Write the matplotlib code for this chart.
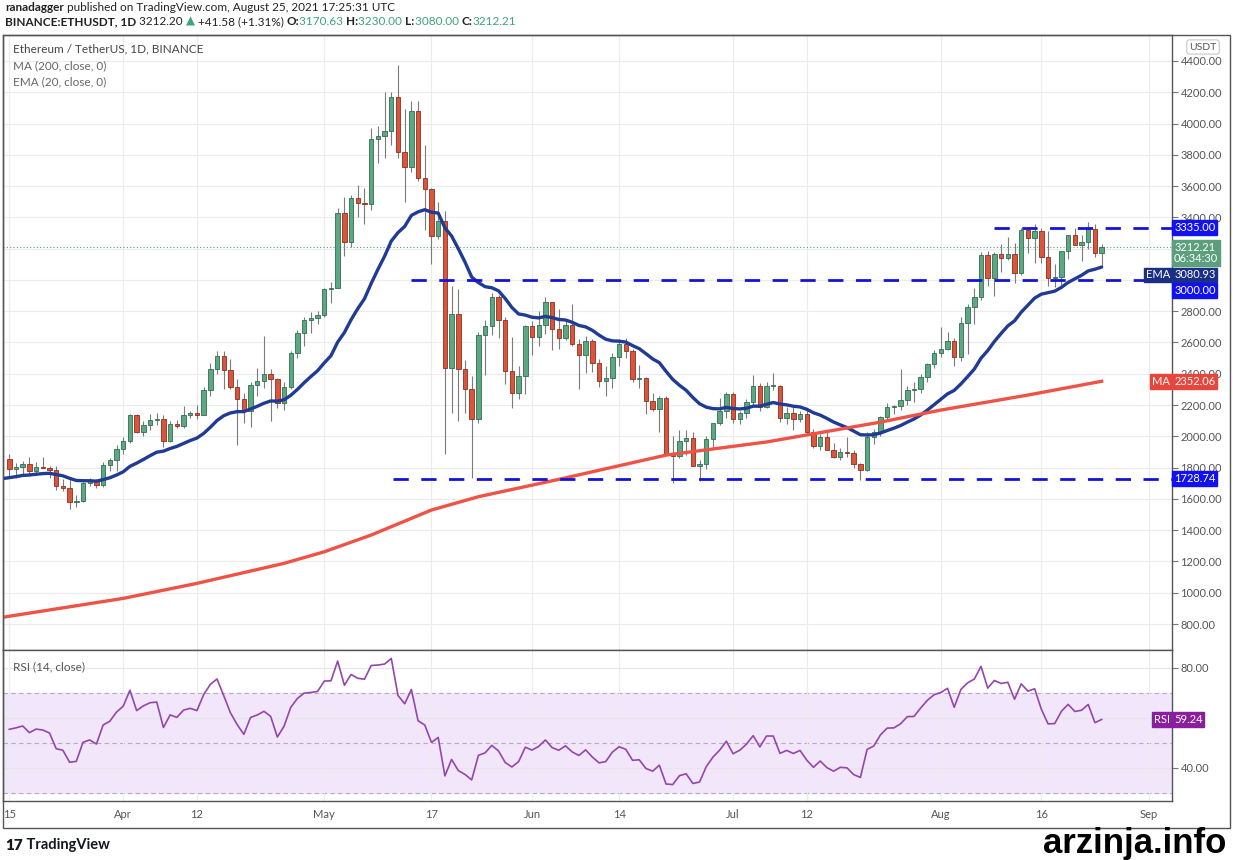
import numpy as np
import matplotlib
matplotlib.use("Agg")
import matplotlib.pyplot as plt
from matplotlib.text import Annotation
from matplotlib.patches import Rectangle

plt.rcParams['font.family'] = ['Lato', 'DejaVu Sans']

# daily candles, Mar 15 .. Aug 25 2021 (day 0 = Mar 15)
opens = [1855, 1792, 1806, 1823, 1777, 1806, 1800, 1782, 1680, 1669, 1582, 1587, 1700, 1715, 1690, 1817, 1846,
         1919, 1970, 2137, 2025, 2073, 2106, 2113, 1968, 2081, 2066, 2134, 2151, 2139, 2299, 2432, 2514, 2423, 2317,
         2236, 2163, 2330, 2357, 2397, 2364, 2214, 2316, 2534, 2663, 2747, 2757,
         2773, 2945, 2950, 3431, 3241, 3524, 3491, 3483, 3903, 3920, 3955, 4169, 3815, 3720, 4081, 3650, 3582, 3279,
         3376, 2440, 2780, 2432, 2300, 2110, 2645, 2706, 2888, 2742, 2415, 2278, 2389,
         2707, 2634, 2715, 2856, 2689, 2630, 2715, 2590, 2517, 2611, 2472, 2354, 2372, 2510, 2590, 2548, 2367, 2373,
         2225, 2177, 2243, 1888, 1876, 1970, 1990, 1812, 1826, 1980, 2086, 2165,
         2273, 2110, 2150, 2220, 2322, 2190, 2322, 2322, 2117, 2149, 2112, 2142, 2030, 1940, 1995, 1915, 1870, 1900,
         1894, 1820, 1787, 1995, 2025, 2125, 2190, 2192, 2230, 2298, 2300, 2382, 2465,
         2530, 2556, 2607, 2507, 2725, 2827, 2891, 3157, 3012, 3163, 3142, 3164, 3047, 3322, 3266, 3310, 3148, 3013,
         3017, 3182, 3286, 3226, 3243, 3323, 3170.63]
highs = [1887, 1830, 1845, 1870, 1837, 1868, 1812, 1812, 1725, 1727, 1625, 1707, 1732, 1725, 1837, 1860, 1945,
         1995, 2144, 2145, 2100, 2145, 2152, 2136, 2095, 2105, 2196, 2165, 2200, 2318, 2470, 2545, 2548, 2495, 2365,
         2280, 2345, 2440, 2644, 2430, 2373, 2350, 2546, 2680, 2760, 2798, 2800,
         2950, 2985, 3457, 3530, 3541, 3610, 3590, 3970, 3986, 4200, 4200, 4372, 4090, 4147, 4146, 3860, 3585, 3500,
         3438, 2960, 2945, 2488, 2385, 2665, 2745, 2915, 2904, 2762, 2635, 2450, 2715,
         2740, 2800, 2891, 2858, 2817, 2743, 2846, 2620, 2640, 2620, 2495, 2450, 2530, 2620, 2630, 2560, 2456, 2380,
         2275, 2260, 2255, 2000, 2040, 2040, 2025, 1850, 2000, 2080, 2245, 2285,
         2285, 2165, 2240, 2390, 2340, 2345, 2405, 2330, 2190, 2185, 2165, 2180, 2045, 2015, 2040, 1960, 1925, 1995,
         1910, 1830, 2025, 2045, 2130, 2215, 2200, 2430, 2320, 2345, 2400, 2470, 2550,
         2700, 2665, 2630, 2765, 2845, 2950, 3180, 3185, 3180, 3230, 3275, 3235, 3335, 3330, 3360, 3335, 3310, 3100,
         3185, 3290, 3335, 3290, 3370, 3360, 3230]
lows = [1740, 1733, 1762, 1760, 1750, 1795, 1732, 1657, 1652, 1535, 1546, 1583, 1680, 1670, 1677, 1780, 1777,
        1885, 1955, 2020, 2003, 2040, 2071, 1932, 1966, 2055, 2055, 2120, 2110, 2137, 2257, 2400, 2300, 2305, 1945,
        2085, 2060, 2260, 2307, 2100, 2180, 2170, 2305, 2500, 2580, 2660, 2720,
        2760, 2855, 2950, 3150, 3212, 3400, 3360, 3450, 3745, 3780, 3862, 3780, 3497, 3690, 3630, 3320, 3100, 3260,
        1887, 2150, 2100, 2150, 1733, 2085, 2390, 2650, 2629, 2336, 2180, 2240, 2270,
        2520, 2580, 2655, 2552, 2557, 2615, 2580, 2302, 2405, 2413, 2316, 2260, 2310, 2450, 2500, 2345, 2310, 2140,
        2160, 2028, 1880, 1700, 1860, 1880, 1810, 1714, 1790, 1920, 2075, 2120,
        2085, 2080, 2120, 2200, 2160, 2180, 2295, 2090, 2080, 2040, 2090, 2020, 1925, 1910, 1920, 1860, 1850, 1870,
        1800, 1718, 1780, 1950, 2000, 2100, 2140, 2170, 2200, 2220, 2280, 2345, 2440,
        2505, 2550, 2450, 2480, 2525, 2720, 2871, 2960, 2900, 3050, 3125, 2981, 3030, 3170, 3108, 3110, 2961, 2955,
        2970, 3135, 3230, 3121, 3200, 3146, 3080]
closes = [1792, 1806, 1823, 1777, 1806, 1800, 1782, 1680, 1669, 1582, 1587, 1700, 1715, 1690, 1817, 1846, 1919,
          1970, 2137, 2025, 2073, 2106, 2113, 1968, 2081, 2066, 2134, 2151, 2139, 2299, 2432, 2514, 2423, 2317, 2236,
          2163, 2330, 2357, 2397, 2364, 2214, 2316, 2534, 2663, 2747, 2757, 2773,
          2945, 2950, 3431, 3241, 3524, 3491, 3483, 3903, 3920, 3955, 4169, 3815, 3720, 4081, 3650, 3582, 3279, 3376,
          2440, 2780, 2432, 2300, 2110, 2645, 2706, 2888, 2742, 2415, 2278, 2389, 2707,
          2634, 2715, 2856, 2689, 2630, 2715, 2590, 2517, 2611, 2472, 2354, 2372, 2510, 2590, 2548, 2367, 2373, 2225,
          2177, 2243, 1888, 1876, 1970, 1990, 1812, 1826, 1980, 2086, 2165, 2273,
          2110, 2150, 2220, 2322, 2190, 2322, 2322, 2117, 2149, 2112, 2142, 2030, 1940, 1995, 1915, 1870, 1900, 1894,
          1820, 1787, 1995, 2025, 2125, 2190, 2192, 2230, 2298, 2300, 2382, 2465, 2530,
          2556, 2607, 2507, 2725, 2827, 2891, 3157, 3012, 3163, 3142, 3164, 3047, 3322, 3266, 3310, 3148, 3013, 3017,
          3182, 3286, 3226, 3243, 3323, 3173, 3212.21]

# MA(200) at a few days
ma_days = [-1, 17, 28, 41, 47, 54, 63, 70, 82, 98, 113, 130, 139, 152, 163]
ma_vals = [843, 964, 1060, 1188, 1262, 1369, 1529, 1614, 1725, 1880, 1964, 2091, 2168, 2264, 2352]

ema_start = 1730          # EMA value at the left edge
rsi_gain0, rsi_loss0 = 48, 34   # Wilder averages before day 0

# horizontal levels drawn by the author: (price, first day)
levels = [(3335.00, 146.9), (3000.00, 60.0), (1728.74, 57.2)]

date_ticks = [0, 17, 28, 47, 63, 78, 91, 108, 119, 139, 154, 170]
date_labels = ["15", "Apr", "12", "May", "17", "Jun", "14", "Jul", "12", "Aug", "16", "Sep"]

last_price = 3212.21
ema_label = "3080.93"
ma_label = "2352.06"
rsi_label = "59.24"

# ---- indicators
days = np.arange(len(closes))
c = np.array(closes, dtype=float)
o = np.array(opens, dtype=float)
h = np.array(highs, dtype=float)
l = np.array(lows, dtype=float)

ema = []
e = ema_start
for v in c:
    e = e + (v - e) * 2 / 21
    ema.append(e)

rsi = []
g_avg, l_avg = rsi_gain0, rsi_loss0
prev = o[0]
for v in c:
    d = v - prev
    g_avg = (g_avg * 13 + max(d, 0)) / 14
    l_avg = (l_avg * 13 + max(-d, 0)) / 14
    rsi.append(100 - 100 / (1 + g_avg / l_avg))
    prev = v

# ---- figure
W, H = 1233, 860
fig = plt.figure(figsize=(W / 100, H / 100), dpi=100)
ax = fig.add_axes([3 / W, (H - 650) / H, 1169 / W, 615 / H])
ax2 = fig.add_axes([3 / W, (H - 801) / H, 1169 / W, 151 / H], sharex=ax)

x0, x1 = -0.94, 173.5
ax.set_xlim(x0, x1)
ax.set_ylim(634, 4566)

GREEN, RED = '#5ea783', '#d9553b'
up = c >= o
cols = np.where(up, GREEN, RED)
edges = np.where(up, '#2f6e51', '#8e2f1f')
ax.vlines(days, l, h, color='#7b7b7b', lw=0.8, zorder=3)
body_lo = np.minimum(o, c)
body_h = np.maximum(np.abs(c - o), 5)
ax.bar(days, body_h, bottom=body_lo, width=0.66, color=cols, edgecolor=edges, lw=0.6, zorder=4)

ax.plot([-1] + list(days), [ema_start] + ema, color='#1f3b93', lw=2.4, zorder=5, solid_capstyle='round')
ax.plot(ma_days, ma_vals, color='#ef5347', lw=2.4, zorder=5)

for price, start in levels:
    ax.plot([start, x1], [price, price], color='#1414d8', lw=2.0, ls=(0, (5.5, 4.5)), zorder=6)

ax.axhline(last_price, color='#5c9f7d', lw=0.8, ls=(0, (1, 2)), zorder=2)

price_ticks = np.arange(800, 4401, 200)
ax.set_yticks(price_ticks)
# 3200 and 3000 sit fully under the price tags on the right
ax.set_yticklabels(["" if p in (3000, 3200) else "%.2f" % p for p in price_ticks])
ax.yaxis.tick_right()
ax.tick_params(axis='y', length=4, width=0.8, color='#777', labelsize=8, labelcolor='#555', pad=2)
ax.set_xticks(date_ticks)
ax.tick_params(axis='x', length=0, labelbottom=False)
ax.grid(True, color='#ececec', lw=0.8, zorder=0)
for s in ax.spines.values():
    s.set_color('#555')
    s.set_linewidth(1)

ax.text(10 / 1169, 1 - 14 / 615, "Ethereum / TetherUS, 1D, BINANCE", transform=ax.transAxes,
        fontsize=8.5, color='#444', va='center')
ax.text(10 / 1169, 1 - 31 / 615, "MA (200, close, 0)", transform=ax.transAxes,
        fontsize=8.5, color='#666', va='center')
ax.text(10 / 1169, 1 - 47 / 615, "EMA (20, close, 0)", transform=ax.transAxes,
        fontsize=8.5, color='#666', va='center')


def tag(axis, text, y, fc, side='right', fs=8):
    if side == 'right':
        xt, ha = 1.5, 'left'
    else:
        xt, ha = -1.5, 'right'
    axis.annotate(text, xy=(1, y), xycoords=('axes fraction', 'data'), xytext=(xt, 0),
                  textcoords='offset points', ha=ha, va='center', fontsize=fs, color='white',
                  linespacing=1.0,
                  bbox=dict(boxstyle='square,pad=0.16', fc=fc, ec=fc), annotation_clip=False, zorder=10)


BLUE = '#1212f0'
NAVY = '#1b2f86'
# tags are pushed apart the way the chart stacks them
tag(ax, "3335.00", 3335.00, BLUE)
tag(ax, "3212.21\n06:34:30", 3172, '#5c9f7d')
tag(ax, ema_label, 3032, NAVY)
tag(ax, "EMA", 3032, NAVY, side='left')
tag(ax, "3000.00", 2932, BLUE)
tag(ax, "1728.74", 1728.74, BLUE)
tag(ax, ma_label, ma_vals[-1], '#e8453c')
tag(ax, "MA", ma_vals[-1], '#e8453c', side='left')

fig.text(1203 / W, 1 - 47 / H, "USDT", ha='center', va='center', fontsize=7.5, color='#555',
         bbox=dict(boxstyle='round,pad=0.25', fc='white', ec='#c8c8c8', lw=0.8))

# ---- RSI pane
ax2.set_ylim(26.6, 87)
ax2.axhspan(30, 70, color='#f2e6fb', zorder=0)
for v in (80, 60, 40):
    ax2.axhline(v, color='#e6e6e6', lw=0.8, zorder=1)
for v in (70, 50, 30):
    ax2.axhline(v, color='#b9a9bf', lw=0.8, ls=(0, (4, 3)), zorder=1)
ax2.plot(days, rsi, color='#9446ad', lw=1.2, zorder=3)
ax2.set_yticks([80, 40])
ax2.yaxis.tick_right()
ax2.yaxis.set_major_formatter(matplotlib.ticker.FormatStrFormatter('%.2f'))
ax2.tick_params(axis='y', length=4, width=0.8, color='#777', labelsize=8, labelcolor='#555', pad=2)
ax2.set_xticks(date_ticks)
ax2.set_xticklabels(date_labels)
ax2.tick_params(axis='x', length=0, labelsize=8, labelcolor='#555', pad=6)
ax2.xaxis.grid(True, color='#ececec', lw=0.8, zorder=0)
for s in ax2.spines.values():
    s.set_color('#555')
    s.set_linewidth(1)
ax2.text(10 / 1169, 1 - 17 / 151, "RSI (14, close)", transform=ax2.transAxes, fontsize=8.5,
         color='#555', va='center')
tag(ax2, rsi_label, rsi[-1], '#8a1f9e')
tag(ax2, "RSI", rsi[-1], '#8a1f9e', side='left')

# outer frame
fig.add_artist(Rectangle((3 / W, (H - 828) / H), 1227 / W, 793 / H, transform=fig.transFigure,
                         fill=False, ec='#555', lw=1))


# header lines made of coloured pieces
def chain(x, y, parts):
    first, kw = parts[0]
    t = fig.text(x, y, first, va='bottom', ha='left', **kw)
    for s, kw in parts[1:]:
        a = Annotation(s, xy=(1, 0), xycoords=t, va='bottom', ha='left', **kw)
        fig.add_artist(a)
        t = a


DK = dict(fontsize=8.5, color='#222')
DKB = dict(fontsize=8.5, color='#222', fontweight='bold')
GR = dict(fontsize=8.5, color='#3fa37d')
chain(5 / W, 1 - 13 / H, [("ranadagger", DKB),
                          (" published on TradingView.com, August 25, 2021 17:25:31 UTC", DK)])
chain(5 / W, 1 - 27 / H, [("BINANCE:ETHUSDT, 1D", DKB), (" 3212.20 ", DK), ("▲", GR),
                          (" +41.58 (+1.31%) ", DK), ("O:", DKB), ("3170.63 ", GR),
                          ("H:", DKB), ("3230.00 ", GR), ("L:", DKB), ("3080.00 ", GR),
                          ("C:", DKB), ("3212.21", GR)])

chain(5 / W, 1 - 852 / H, [("17", dict(fontsize=11, color='#131722', fontweight='heavy')),
                           (" TradingView", dict(fontsize=10.5, color='#131722', fontweight='bold'))])
fig.text(1226 / W, 1 - 843 / H, "arzinja.info", ha='right', va='center', fontsize=25,
         fontweight='bold', family='Liberation Sans', color='black')

fig.savefig("out.png", dpi=100)
